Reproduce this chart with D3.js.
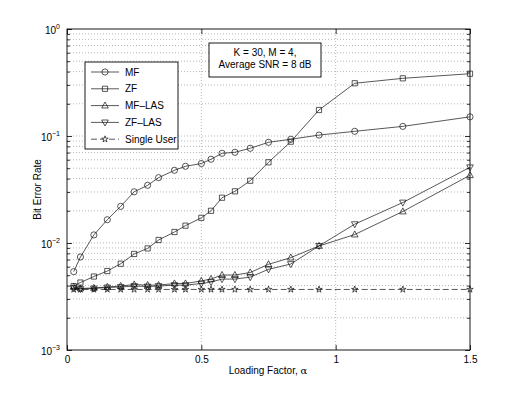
<!DOCTYPE html>
<html>
<head>
<meta charset="utf-8">
<script src="https://cdn.jsdelivr.net/npm/d3@7"></script>
<style>
  body { margin: 0; background: #fff; }
  text { font-family: "Liberation Sans", Arial, Helvetica, sans-serif; font-size: 10px; fill: #000; }
</style>
</head>
<body>
<div id="chart"></div>
<script>
// loading factor alpha = K/N, K = 30
var alphas = [0.025, 0.05, 0.1, 0.15, 0.2, 0.25, 0.3, 0.341, 0.4, 0.441, 0.5,
              0.536, 0.577, 0.625, 0.682, 0.75, 0.833, 0.938, 1.071, 1.25, 1.5];

var berMF = [0.0054, 0.0074, 0.0119, 0.0165, 0.022, 0.0301, 0.0346, 0.0408, 0.0478, 0.0521, 0.0553,
             0.0606, 0.0689, 0.0704, 0.0768, 0.0873, 0.0932, 0.102, 0.1106, 0.123, 0.151];
var berZF = [0.00396, 0.00427, 0.00486, 0.00547, 0.0064, 0.0079, 0.0089, 0.01067, 0.01267, 0.01452, 0.0172,
             0.02, 0.0265, 0.0304, 0.0382, 0.0568, 0.0885, 0.175, 0.311, 0.346, 0.382];
var berMFLAS = [0.00388, 0.00376, 0.0038, 0.00388, 0.00396, 0.00409, 0.00404, 0.00404, 0.00418, 0.00418, 0.00442,
                0.00461, 0.00502, 0.00502, 0.0053, 0.00632, 0.0073, 0.00938, 0.012, 0.0197, 0.043];
var berZFLAS = [0.0038, 0.00372, 0.00376, 0.00384, 0.00388, 0.00396, 0.00392, 0.00396, 0.00404, 0.00404, 0.00418,
                0.00432, 0.0046, 0.0046, 0.0048, 0.00568, 0.00636, 0.0094, 0.015, 0.0239, 0.051];
var berSingle = [0.00368, 0.00368, 0.00368, 0.00368, 0.00368, 0.00368, 0.00368, 0.00368, 0.00368, 0.00368, 0.00368,
                 0.00368, 0.00368, 0.00368, 0.00368, 0.00368, 0.00368, 0.00368, 0.00368, 0.00368, 0.00368];

var seriesNames = ["MF", "ZF", "MF\u2013LAS", "ZF\u2013LAS", "Single User"];
var seriesData = [berMF, berZF, berMFLAS, berZFLAS, berSingle];
var seriesMarks = ["circle", "square", "up", "down", "star"];

var xTicks = [0, 0.5, 1, 1.5];
var xTickLabels = ["0", "0.5", "1", "1.5"];
var yTicks = [1e-3, 1e-2, 1e-1, 1];
var yTickExp = ["\u22123", "\u22122", "\u22121", "0"];

var noteLines = ["K = 30, M = 4,", "Average SNR = 8 dB"];

var W = 519, H = 394;
var pL = 67, pR = 470, pT = 29, pB = 350;

var svg = d3.select("#chart").append("svg")
    .attr("width", W)
    .attr("height", H);

var x = d3.scaleLinear().domain([0, 1.5]).range([pL, pR]);
var y = d3.scaleLog().domain([1e-3, 1]).range([pB, pT]);

// minor log ticks 2..9 in each decade
var yMinor = [];
yTicks.slice(0, 3).forEach(function (d) {
    for (var k = 2; k <= 9; k++) yMinor.push(d * k);
});

// grid
var grid = svg.append("g")
    .attr("stroke", "#888")
    .attr("stroke-width", 0.6)
    .attr("stroke-dasharray", "1,2");
grid.selectAll("line.h")
    .data(yMinor.concat([1e-2, 1e-1]))
    .enter().append("line")
    .attr("x1", pL).attr("x2", pR)
    .attr("y1", function (d) { return y(d); })
    .attr("y2", function (d) { return y(d); });
grid.selectAll("line.v")
    .data([0.5, 1])
    .enter().append("line")
    .attr("y1", pT).attr("y2", pB)
    .attr("x1", function (d) { return x(d); })
    .attr("x2", function (d) { return x(d); });

// axes, ticks pointing inward
function styleAxis(g) {
    g.select(".domain").remove();
    g.selectAll(".tick line").attr("stroke", "#000").attr("stroke-width", 0.8);
}
svg.append("g")
    .attr("transform", "translate(0," + pB + ")")
    .call(d3.axisBottom(x).tickValues(xTicks).tickSize(-5).tickPadding(6)
        .tickFormat(function (d, i) { return xTickLabels[i]; }))
    .call(styleAxis)
    .selectAll("text").attr("font-size", null).attr("font-family", null);
svg.append("g")
    .attr("transform", "translate(0," + pT + ")")
    .call(d3.axisTop(x).tickValues(xTicks).tickSize(-5).tickFormat(""))
    .call(styleAxis);

var yl = svg.append("g")
    .attr("transform", "translate(" + pL + ",0)")
    .call(d3.axisLeft(y).tickValues(yTicks).tickSize(-5).tickFormat(""))
    .call(styleAxis);
yl.selectAll(".tick text").remove();
yl.selectAll(".tick").each(function (d, i) {
    var t = d3.select(this).append("text")
        .attr("x", -7)
        .attr("y", 4)
        .attr("fill", "#000")
        .attr("text-anchor", "end");
    t.append("tspan").text("10");
    t.append("tspan").attr("dy", -5).style("font-size", "7px").text(yTickExp[i]);
});
svg.append("g")
    .attr("transform", "translate(" + pL + ",0)")
    .call(d3.axisLeft(y).tickValues(yMinor).tickSize(-3).tickFormat(""))
    .call(styleAxis);
svg.append("g")
    .attr("transform", "translate(" + pR + ",0)")
    .call(d3.axisRight(y).tickValues(yTicks).tickSize(-5).tickFormat(""))
    .call(styleAxis);
svg.append("g")
    .attr("transform", "translate(" + pR + ",0)")
    .call(d3.axisRight(y).tickValues(yMinor).tickSize(-3).tickFormat(""))
    .call(styleAxis);

// frame
svg.append("rect")
    .attr("x", pL).attr("y", pT)
    .attr("width", pR - pL).attr("height", pB - pT)
    .attr("fill", "none").attr("stroke", "#000").attr("stroke-width", 0.9);

// markers
function markerPath(type) {
    if (type === "circle") return d3.symbol(d3.symbolCircle, 30)();
    if (type === "square") return "M-2.6,-2.6H2.6V2.6H-2.6Z";
    if (type === "up") return "M0,-3.6L3.3,2.4L-3.3,2.4Z";
    if (type === "down") return "M0,3.6L3.3,-2.4L-3.3,-2.4Z";
    return d3.symbol(d3.symbolStar, 13)();
}

var line = d3.line()
    .x(function (d) { return x(d[0]); })
    .y(function (d) { return y(d[1]); });

seriesData.forEach(function (vals, s) {
    var pts = alphas.map(function (a, i) { return [a, vals[i]]; });
    var g = svg.append("g");
    g.append("path")
        .datum(pts)
        .attr("d", line)
        .attr("fill", "none")
        .attr("stroke", "#111")
        .attr("stroke-width", 0.7)
        .attr("stroke-dasharray", s === 4 ? "6,3" : null);
    g.selectAll("path.m")
        .data(pts)
        .enter().append("path")
        .attr("class", "m")
        .attr("d", markerPath(seriesMarks[s]))
        .attr("transform", function (d) { return "translate(" + x(d[0]) + "," + y(d[1]) + ")"; })
        .attr("fill", "none")
        .attr("stroke", "#111")
        .attr("stroke-width", 0.7);
});

// legend
var lg = svg.append("g");
lg.append("rect")
    .attr("x", 85).attr("y", 62).attr("width", 93).attr("height", 87)
    .attr("fill", "#fff").attr("stroke", "#000").attr("stroke-width", 0.9);
seriesNames.forEach(function (name, s) {
    var ly = 72 + s * 16.8;
    lg.append("line")
        .attr("x1", 91).attr("x2", 119).attr("y1", ly).attr("y2", ly)
        .attr("stroke", "#111").attr("stroke-width", 0.7)
        .attr("stroke-dasharray", s === 4 ? "6,3" : null);
    lg.append("path")
        .attr("d", markerPath(seriesMarks[s]))
        .attr("transform", "translate(105," + ly + ")")
        .attr("fill", s === 4 ? "#fff" : "none")
        .attr("stroke", "#111").attr("stroke-width", 0.7);
    lg.append("text")
        .attr("x", 125).attr("y", ly + 3.6)
        .text(name);
});

// note box
var nb = svg.append("g");
nb.append("rect")
    .attr("x", 209).attr("y", 43).attr("width", 112).attr("height", 34)
    .attr("fill", "#fff").attr("stroke", "#000").attr("stroke-width", 0.9);
noteLines.forEach(function (t, i) {
    nb.append("text")
        .attr("x", 265).attr("y", 56 + i * 11.5)
        .attr("text-anchor", "middle")
        .text(t);
});

// axis labels
var xl = svg.append("text")
    .attr("x", 268).attr("y", 374)
    .attr("text-anchor", "middle");
xl.append("tspan").text("Loading Factor,  ");
xl.append("tspan").style("font-family", "'DejaVu Serif', serif").text("\u03b1");

svg.append("text")
    .attr("transform", "translate(41," + ((pT + pB) / 2) + ") rotate(-90)")
    .attr("text-anchor", "middle")
    .text("Bit Error Rate");
</script>
</body>
</html>
